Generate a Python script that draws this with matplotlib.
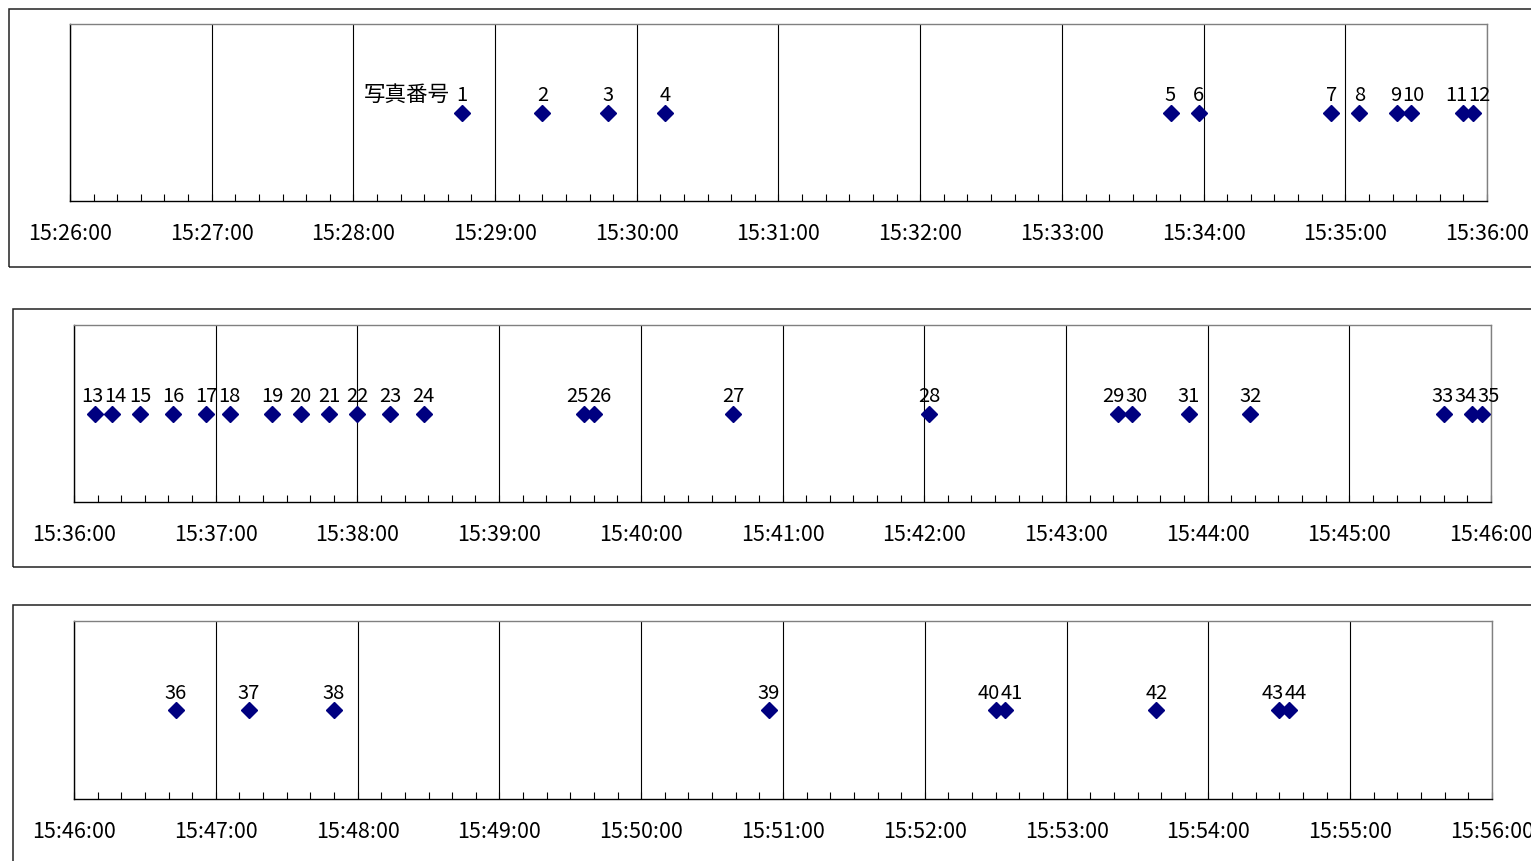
from datetime import datetime, timedelta
import matplotlib
matplotlib.use('Agg')
import matplotlib.pyplot as plt
import matplotlib.dates as mdates
from matplotlib.patches import Rectangle

# photo number and the time it was taken
photo_numbers = [1, 2, 3, 4, 5, 6, 7, 8, 9, 10, 11, 12,
                 13, 14, 15, 16, 17, 18, 19, 20, 21, 22, 23, 24,
                 25, 26, 27, 28, 29, 30, 31, 32, 33, 34, 35,
                 36, 37, 38, 39, 40, 41, 42, 43, 44]
photo_times = ["15:28:46", "15:29:20", "15:29:48", "15:30:12", "15:33:46",
               "15:33:58", "15:34:54", "15:35:06", "15:35:22", "15:35:28",
               "15:35:50", "15:35:54",
               "15:36:09", "15:36:16", "15:36:28", "15:36:42", "15:36:56",
               "15:37:06", "15:37:24", "15:37:36", "15:37:48", "15:38:00",
               "15:38:14", "15:38:28", "15:39:36", "15:39:40", "15:40:39",
               "15:42:02", "15:43:22", "15:43:28", "15:43:52", "15:44:18",
               "15:45:40", "15:45:52", "15:45:56",
               "15:46:43", "15:47:14", "15:47:50", "15:50:54", "15:52:30",
               "15:52:34", "15:53:38", "15:54:30", "15:54:34"]
photo_level = 1
series_name = "写真番号"
panel_starts = ["15:26:00", "15:36:00", "15:46:00"]
panel_minutes = 10

FONT = ['Noto Sans CJK JP', 'DejaVu Sans']
W, H = 1531, 861

# pixel layout: chart frame (left, top, bottom) and plot area (left, right, top, bottom)
chart_frames = [(9, 9, 267), (13, 309, 567), (13, 605, 880)]
plot_areas = [(70, 1487, 24, 201), (74, 1491, 325, 502), (74, 1492, 621, 799)]


def to_dt(s):
    return datetime.strptime("2000-01-01 " + s, "%Y-%m-%d %H:%M:%S")


fig = plt.figure(figsize=(W / 100, H / 100), dpi=100)
all_labels = []

for i, start_s in enumerate(panel_starts):
    fl, ft, fb = chart_frames[i]
    fig.patches.append(Rectangle((fl / W, 1 - fb / H), (W + 20 - fl) / W, (fb - ft) / H,
                                 transform=fig.transFigure, fill=False,
                                 edgecolor='#222222', lw=1.1, zorder=0))

    pl, pr, pt, pb = plot_areas[i]
    ax = fig.add_axes([pl / W, 1 - pb / H, (pr - pl) / W, (pb - pt) / H])
    start = to_dt(start_s)
    end = start + timedelta(minutes=panel_minutes)

    # points in this window
    xs, nums = [], []
    for n, t in zip(photo_numbers, photo_times):
        dt = to_dt(t)
        if start <= dt < end:
            xs.append(dt)
            nums.append(n)

    ax.plot(xs, [photo_level] * len(xs), linestyle='none', marker='D',
            markersize=8.5, color='#000080', clip_on=False, zorder=3)
    labels = []
    for j, (x, n) in enumerate(zip(xs, nums)):
        a = ax.annotate(str(n), (x, photo_level), xytext=(0, 4.5), textcoords='offset points',
                        ha='center', va='bottom', fontsize=14.5, family=FONT)
        labels.append(a)
        if i == 0 and j == 0:
            ax.annotate(series_name, (x, photo_level), xytext=(-9, 4.5),
                        textcoords='offset points', ha='right', va='bottom',
                        fontsize=15.5, family=FONT)
    all_labels.append(labels)

    ax.set_xlim(start, end)
    ax.set_ylim(0, 2)
    ax.set_yticks([])
    ax.xaxis.set_major_locator(mdates.MinuteLocator())
    ax.xaxis.set_minor_locator(mdates.SecondLocator(bysecond=range(0, 60, 10)))
    ax.xaxis.set_major_formatter(mdates.DateFormatter('%H:%M:%S'))
    ax.xaxis.grid(True, which='major', color='black', lw=0.8)
    ax.set_axisbelow(True)
    ax.tick_params(axis='x', which='both', direction='in', length=5, width=0.8, pad=16)
    for lab in ax.get_xticklabels():
        lab.set_family(FONT)
        lab.set_fontsize(15.5)

    ax.spines['top'].set_color('#808080')
    ax.spines['right'].set_color('#808080')
    ax.spines['left'].set_color('black')
    ax.spines['bottom'].set_color('black')
    for sp in ax.spines.values():
        sp.set_linewidth(1.0)

# nudge crowded data labels apart so neighbours just touch
fig.canvas.draw()
renderer = fig.canvas.get_renderer()
px_to_pt = 72 / fig.dpi
for labels in all_labels:
    for _ in range(30):
        moved = False
        boxes = [a.get_window_extent(renderer) for a in labels]
        for k in range(len(labels) - 1):
            overlap = boxes[k].x1 - boxes[k + 1].x0 + 1
            if overlap > 0:
                for a, sgn in ((labels[k], -1), (labels[k + 1], 1)):
                    dx, dy = a.xyann
                    a.xyann = (dx + sgn * overlap / 2 * px_to_pt, dy)
                moved = True
        if not moved:
            break

fig.savefig('out.png', dpi=100)
